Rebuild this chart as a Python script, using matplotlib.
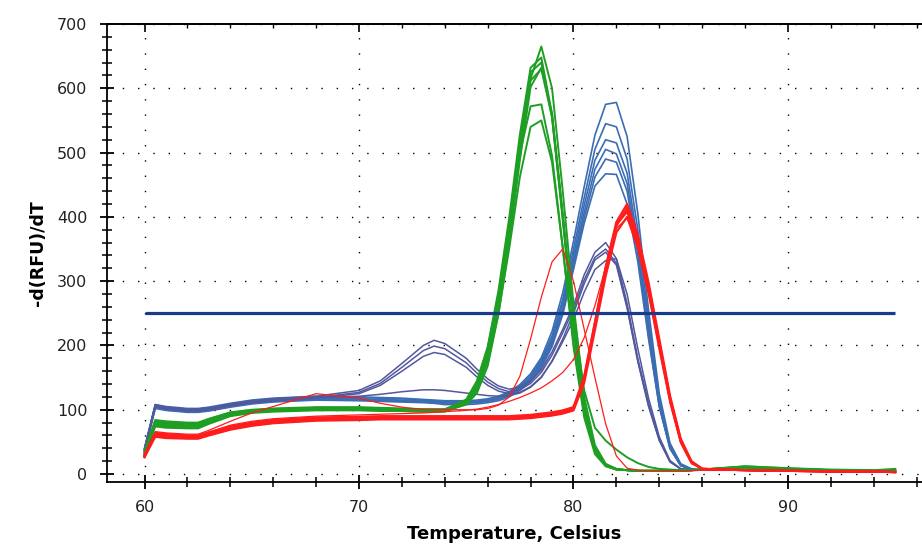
import matplotlib
matplotlib.use("Agg")
import matplotlib.pyplot as plt
from matplotlib.ticker import MultipleLocator

# Melt-curve temperature grid (Celsius)
TEMP = [60, 60.5, 61, 62, 62.5, 63, 64, 65, 66, 68,
        70, 71, 72, 73, 73.5, 74, 75, 75.5, 76, 76.5,
        77, 77.5, 78, 78.5, 79, 79.5, 80, 80.5, 81, 81.5,
        82, 82.5, 83, 83.5, 84, 84.5, 85, 85.5, 86, 88,
        90, 92, 94, 95]

# -d(RFU)/dT, green wells (Tm ~78.3)
green_curves = [
    [33, 82, 80, 78, 78, 84, 95, 99, 101, 103,
     103, 102, 101, 100, 100, 100, 112, 135, 180, 260,
     370, 500, 615, 665, 600, 440, 265, 120, 45, 16,
     8, 6, 5, 5, 5, 5, 5, 6, 7, 11,
     8, 6, 5, 6],
    [30, 78, 76, 75, 75, 81, 92, 97, 99, 101,
     101, 100, 100, 99, 99, 100, 116, 145, 198, 285,
     398, 528, 632, 648, 560, 400, 230, 105, 38, 14,
     8, 6, 5, 5, 5, 5, 5, 6, 7, 10,
     8, 6, 5, 6],
    [35, 84, 82, 80, 80, 86, 96, 100, 102, 104,
     104, 103, 102, 101, 101, 101, 113, 138, 188, 272,
     385, 515, 625, 640, 555, 395, 225, 100, 36, 13,
     7, 6, 5, 5, 5, 5, 5, 6, 7, 12,
     9, 6, 5, 7],
    [28, 74, 72, 71, 71, 78, 90, 95, 97, 99,
     99, 98, 98, 97, 97, 98, 108, 126, 168, 248,
     358, 488, 602, 632, 560, 405, 238, 108, 40, 14,
     7, 6, 5, 5, 5, 5, 5, 6, 7, 10,
     8, 6, 5, 6],
    [32, 80, 78, 77, 77, 83, 94, 98, 100, 102,
     102, 101, 100, 99, 99, 98, 114, 143, 196, 278,
     385, 498, 572, 575, 495, 352, 198, 88, 31, 12,
     7, 6, 5, 5, 5, 5, 5, 6, 7, 11,
     8, 6, 5, 6],
    [30, 76, 74, 73, 73, 79, 91, 96, 98, 100,
     100, 99, 98, 97, 97, 97, 109, 130, 174, 250,
     350, 462, 540, 550, 485, 352, 205, 95, 35, 13,
     7, 6, 5, 5, 5, 5, 5, 6, 7, 10,
     8, 6, 5, 6],
    [34, 83, 81, 79, 79, 85, 95, 99, 101, 103,
     103, 102, 101, 100, 100, 99, 111, 134, 182, 265,
     378, 505, 612, 630, 555, 400, 245, 130, 72, 52,
     38, 26, 17, 11, 8, 7, 6, 6, 7, 12,
     9, 7, 6, 8],
]

# blue wells (Tm ~81.8)
blue_curves = [
    [40, 108, 105, 102, 102, 104, 110, 115, 118, 121,
     120, 119, 118, 116, 115, 114, 114, 115, 117, 121,
     128, 139, 156, 181, 222, 282, 362, 447, 527, 575,
     578, 525, 405, 255, 125, 48, 16, 8, 6, 6,
     5, 4, 4, 3],
    [38, 105, 102, 99, 99, 101, 107, 112, 115, 118,
     117, 116, 115, 114, 113, 112, 112, 113, 115, 119,
     126, 137, 153, 177, 215, 272, 350, 430, 505, 545,
     540, 490, 380, 240, 118, 45, 15, 8, 6, 6,
     5, 4, 4, 3],
    [36, 104, 101, 98, 98, 100, 106, 111, 114, 117,
     116, 115, 114, 113, 112, 111, 111, 112, 114, 118,
     125, 135, 150, 174, 210, 265, 340, 418, 488, 520,
     515, 468, 362, 228, 112, 42, 14, 7, 6, 6,
     5, 4, 4, 3],
    [39, 107, 104, 101, 101, 103, 109, 114, 117, 120,
     119, 118, 117, 115, 114, 113, 112, 113, 115, 118,
     124, 134, 149, 171, 206, 258, 332, 407, 474, 505,
     498, 452, 352, 222, 108, 40, 13, 7, 6, 6,
     5, 4, 4, 3],
    [37, 103, 100, 97, 97, 99, 105, 110, 113, 116,
     115, 114, 113, 112, 111, 110, 110, 111, 113, 116,
     122, 132, 146, 168, 202, 252, 325, 398, 462, 490,
     485, 440, 342, 215, 105, 40, 13, 7, 6, 6,
     5, 4, 4, 3],
    [35, 102, 99, 96, 96, 98, 104, 109, 112, 115,
     114, 113, 112, 111, 110, 108, 108, 109, 111, 114,
     120, 130, 144, 165, 198, 248, 318, 390, 448, 467,
     466, 420, 330, 210, 105, 40, 14, 7, 6, 6,
     5, 4, 4, 3],
]

# wells with a secondary product near 73.5
bump_curves = [
    [40, 108, 104, 101, 101, 103, 109, 114, 117, 121,
     130, 145, 172, 200, 208, 203, 180, 163, 148, 137,
     132, 135, 145, 162, 190, 225, 262, 310, 345, 360,
     335, 265, 180, 110, 55, 20, 8, 6, 6, 6,
     5, 4, 4, 3],
    [38, 106, 102, 99, 99, 101, 107, 112, 115, 119,
     127, 141, 166, 192, 199, 195, 173, 157, 143, 133,
     128, 131, 141, 158, 185, 220, 256, 302, 337, 350,
     328, 260, 176, 107, 53, 19, 8, 6, 6, 6,
     5, 4, 4, 3],
    [37, 105, 101, 98, 98, 100, 106, 111, 114, 118,
     125, 138, 160, 183, 189, 186, 166, 151, 138, 129,
     125, 127, 136, 151, 175, 206, 240, 283, 318, 332,
     335, 280, 195, 118, 58, 21, 8, 6, 6, 6,
     5, 4, 4, 3],
    [39, 107, 103, 100, 100, 102, 108, 113, 116, 119,
     121, 124, 128, 131, 131, 130, 126, 124, 122, 121,
     122, 126, 135, 150, 176, 210, 250, 296, 333, 345,
     325, 258, 175, 105, 52, 19, 8, 6, 6, 6,
     5, 4, 4, 3],
]

# red wells (Tm ~82.5)
red_curves = [
    [28, 62, 60, 58, 58, 63, 72, 78, 82, 86,
     87, 88, 88, 88, 88, 88, 88, 88, 88, 88,
     88, 89, 90, 92, 94, 97, 102, 150, 235, 322,
     392, 420, 372, 298, 210, 122, 55, 20, 8, 6,
     5, 4, 4, 3],
    [26, 60, 58, 56, 56, 61, 70, 76, 80, 84,
     85, 86, 86, 86, 86, 86, 86, 86, 86, 86,
     86, 87, 88, 90, 92, 95, 100, 146, 230, 316,
     386, 414, 366, 292, 205, 118, 52, 19, 8, 6,
     5, 4, 4, 3],
    [30, 64, 62, 60, 60, 65, 74, 80, 84, 88,
     89, 90, 90, 90, 90, 90, 90, 90, 90, 90,
     90, 91, 92, 94, 96, 99, 104, 152, 236, 320,
     388, 408, 362, 290, 204, 118, 52, 19, 8, 6,
     5, 4, 4, 3],
    [27, 58, 56, 55, 55, 60, 69, 75, 79, 83,
     84, 85, 85, 85, 85, 85, 85, 85, 85, 85,
     85, 86, 87, 89, 91, 94, 99, 142, 224, 308,
     376, 400, 356, 285, 200, 115, 50, 18, 8, 6,
     5, 4, 4, 3],
]
red_thin_curves = [
    [30, 66, 64, 62, 62, 68, 82, 95, 105, 125,
     118, 110, 104, 100, 100, 100, 100, 100, 102, 107,
     120, 152, 210, 275, 330, 350, 300, 225, 150, 78,
     28, 9, 6, 5, 5, 5, 5, 5, 6, 6,
     5, 4, 4, 3],
    [30, 64, 62, 60, 60, 65, 76, 82, 86, 90,
     92, 93, 94, 95, 96, 97, 99, 101, 104, 108,
     113, 119, 126, 134, 145, 158, 178, 212, 262, 322,
     382, 398, 350, 278, 192, 110, 48, 16, 8, 6,
     5, 4, 4, 3],
]

THRESHOLD = 250
THRESHOLD_RANGE = [60, 95]

X_TICKS = [60, 70, 80, 90]
Y_TICKS = [0, 100, 200, 300, 400, 500, 600, 700]

plt.rcParams["font.family"] = ["DejaVu Sans"]

fig = plt.figure(figsize=(9.22, 5.53), dpi=100)
ax = fig.add_axes([107 / 922, 1 - 482 / 553, 815 / 922, (482 - 24) / 553])

BLUE = "#3b6db3"
PURPLE = "#52589c"
GREEN = "#1f9e24"
RED = "#ff1c1c"

for c in blue_curves:
    ax.plot(TEMP, c, color=BLUE, lw=1.2, zorder=3)
for c in bump_curves:
    ax.plot(TEMP, c, color=PURPLE, lw=1.1, zorder=3)
for c in green_curves:
    ax.plot(TEMP, c, color=GREEN, lw=1.4, zorder=4)
for c in red_curves:
    ax.plot(TEMP, c, color=RED, lw=1.6, zorder=5)
for c in red_thin_curves:
    ax.plot(TEMP, c, color=RED, lw=0.9, zorder=5)

ax.plot(THRESHOLD_RANGE, [THRESHOLD, THRESHOLD], color="#1a3a8a", lw=2.3,
        solid_capstyle="butt", zorder=6)

ax.set_xlim(58.25, 96.25)
ax.set_ylim(-12.4, 700)
ax.set_xticks(X_TICKS)
ax.set_yticks(Y_TICKS)
ax.xaxis.set_minor_locator(MultipleLocator(2))
ax.yaxis.set_minor_locator(MultipleLocator(20))

ax.grid(True, which="major", color="black", linestyle=(0, (1, 10)), lw=1.0, zorder=1)

ax.spines["right"].set_visible(False)
for side in ("left", "bottom", "top"):
    ax.spines[side].set_linewidth(1.3)

ax.tick_params(axis="both", which="major", direction="inout", length=10, width=1.3,
               labelsize=11.5, colors="black", labelcolor="#222222")
ax.tick_params(axis="both", which="minor", direction="inout", length=7, width=1.1)
ax.tick_params(axis="y", which="both", pad=9, right=False)
ax.tick_params(axis="x", which="both", pad=8, top=False)

top = ax.secondary_xaxis("top")
top.set_xticks(X_TICKS)
top.xaxis.set_minor_locator(MultipleLocator(2))
top.tick_params(which="major", direction="in", length=6, width=1.2, labeltop=False)
top.tick_params(which="minor", direction="in", length=3, width=1.0)
top.spines["top"].set_linewidth(1.3)

ax.set_xlabel("Temperature, Celsius", fontsize=13, fontweight="bold", labelpad=7)
ax.set_ylabel("-d(RFU)/dT", fontsize=12.5, fontweight="bold", labelpad=7)

fig.savefig("out.png", dpi=100)
